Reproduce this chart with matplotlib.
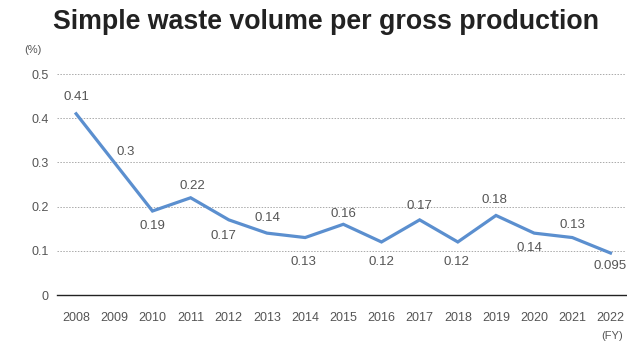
import matplotlib.pyplot as plt

years = ['2008', '2009', '2010', '2011', '2012', '2013', '2014', '2015',
         '2016', '2017', '2018', '2019', '2020', '2021', '2022']
values = [0.41, 0.3, 0.19, 0.22, 0.17, 0.14, 0.13, 0.16,
          0.12, 0.17, 0.12, 0.18, 0.14, 0.13, 0.095]
value_labels = ['0.41', '0.3', '0.19', '0.22', '0.17', '0.14', '0.13', '0.16',
                '0.12', '0.17', '0.12', '0.18', '0.14', '0.13', '0.095']
# label offsets in pixels (dx, dy) relative to each point
label_offsets = [(0, 17), (11, 10), (0, -15), (2, 12), (-5, -16), (0, 15), (-2, -24), (0, 10),
                 (0, -20), (0, 14), (-1, -20), (-2, 15), (-5, -15), (0, 13), (0, -13)]

plt.rcParams['font.family'] = ['Liberation Sans', 'DejaVu Sans']

fig = plt.figure(figsize=(6.27, 3.42), dpi=100)
ax = fig.add_axes([0.091, 0.1374, 0.907, 0.6462])

x = list(range(len(years)))
ax.plot(x, values, color='#5b8fcf', linewidth=2.3, solid_joinstyle='miter', zorder=3)

for xi, v, lab, (dx, dy) in zip(x, values, value_labels, label_offsets):
    ax.annotate(lab, (xi, v), xytext=(dx, dy), textcoords='offset pixels',
                ha='center', va='center', fontsize=9.5, color='#555555')

ax.set_ylim(0, 0.5)
ax.set_xlim(-0.5, 14.4)
ax.set_yticks([0, 0.1, 0.2, 0.3, 0.4, 0.5])
ax.set_yticklabels(['0', '0.1', '0.2', '0.3', '0.4', '0.5'])
ax.set_xticks(x)
ax.set_xticklabels(years)
ax.tick_params(axis='both', length=0, labelsize=9, colors='#555555')
ax.tick_params(axis='x', pad=12)
ax.tick_params(axis='y', pad=6)

for yv in [0.1, 0.2, 0.3, 0.4, 0.5]:
    ax.axhline(yv, color='#aaaaaa', linewidth=0.7, linestyle=(0, (1.5, 1.5)), zorder=1)

for side in ['top', 'right', 'left']:
    ax.spines[side].set_visible(False)
ax.spines['bottom'].set_color('#222222')
ax.spines['bottom'].set_linewidth(1.0)

fig.text(0.52, 0.935, 'Simple waste volume per gross production', ha='center', va='center',
         fontsize=19.3, fontweight='bold', color='#222222')
fig.text(0.053, 0.855, '(%)', ha='center', va='center', fontsize=8, color='#555555')
fig.text(0.976, 0.018, '(FY)', ha='center', va='center', fontsize=8, color='#555555')

fig.savefig('out.png', dpi=100)
